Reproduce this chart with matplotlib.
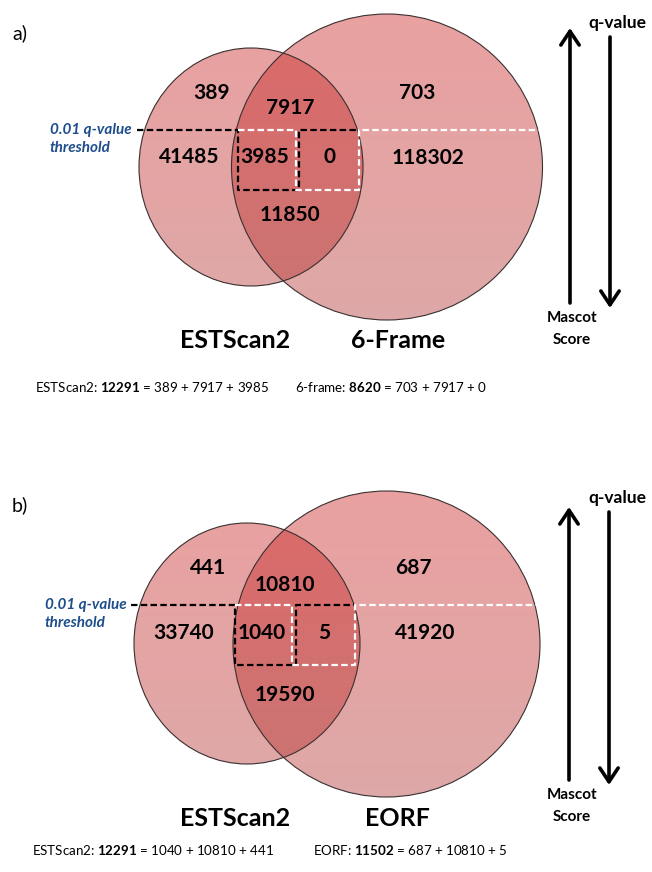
import numpy as np
import matplotlib.pyplot as plt
from matplotlib.patches import Ellipse

plt.rcParams['font.family'] = ['Lato', 'DejaVu Sans']
plt.rcParams['mathtext.fontset'] = 'custom'
plt.rcParams['mathtext.rm'] = 'Lato'
plt.rcParams['mathtext.bf'] = 'Lato:bold'

# region counts: top-left, top-mid, top-right, mid-left, box1, box2, mid-right, bottom-mid
a_counts = [389, 7917, 703, 41485, 3985, 0, 118302, 11850]
b_counts = [441, 10810, 687, 33740, 1040, 5, 41920, 19590]
a_sets = ["ESTScan2", "6-Frame"]
b_sets = ["ESTScan2", "EORF"]
a_eq_names = ["ESTScan2", "6-frame"]
b_eq_names = ["ESTScan2", "EORF"]
a_totals = [12291, 8620]
b_totals = [12291, 11502]
a_parts = [[389, 7917, 3985], [703, 7917, 0]]
b_parts = [[1040, 10810, 441], [687, 10810, 5]]

# layout (pixel coords of the figure)
a_pos = [(212, 93), (290, 108), (417, 93), (189, 157), (265, 157), (329, 157), (428, 158), (290, 215)]
b_pos = [(208, 568), (285, 585), (413, 568), (184, 633), (262, 633), (324, 633), (425, 633), (285, 695)]

panels = [
    dict(tag="a)", tag_y=33, counts=a_counts, pos=a_pos, sets=a_sets, set_y=340, set_x=(235, 398),
         left=(251, 167, 224, 238), right=(387, 167, 311, 306),
         thr_y=130, box=(238, 296, 299, 359, 190), line=(137, 540), thr_x=50,
         arr_up=(570, 303, 28), arr_dn=(610, 37, 308), q_y=23, m_y=318,
         eq_y=387, eq_x=(35, 295), names=a_eq_names, totals=a_totals, parts=a_parts),
    dict(tag="b)", tag_y=505, counts=b_counts, pos=b_pos, sets=b_sets, set_y=818, set_x=(235, 397),
         left=(247, 643.5, 226, 241), right=(386.5, 644, 307, 306),
         thr_y=605, box=(235, 292, 296, 355, 665), line=(131, 537), thr_x=45,
         arr_up=(569, 780, 507), arr_dn=(609, 512, 785), q_y=498, m_y=795,
         eq_y=850, eq_x=(32, 313), names=b_eq_names, totals=b_totals, parts=b_parts),
]

fig = plt.figure(figsize=(6.52, 8.72), dpi=100)
ax = fig.add_axes([0, 0, 1, 1])

alpha = 0.42
c_top = np.array([0.80, 0.12, 0.12])
c_bot = np.array([0.69, 0.19, 0.18])

for p in panels:
    ytop = p['right'][1] - p['right'][3] / 2
    ybot = p['right'][1] + p['right'][3] / 2
    t = np.linspace(0, 1, 256)[:, None]
    grad = np.zeros((256, 1, 4))
    grad[:, 0, :3] = c_top * (1 - t) + c_bot * t
    grad[:, 0, 3] = alpha
    for cx, cy, w, h in (p['left'], p['right']):
        clip = Ellipse((cx, cy), w, h, transform=ax.transData)
        im = ax.imshow(grad, extent=(cx - w / 2, cx + w / 2, ybot, ytop), origin='upper',
                       aspect='auto', interpolation='bilinear', zorder=1)
        im.set_clip_path(clip)
        ax.add_patch(Ellipse((cx, cy), w, h, fill=False, ec='#3a3030', lw=0.8, zorder=2))

    for val, (x, y) in zip(p['counts'], p['pos']):
        ax.text(x, y, str(val), ha='center', va='center', fontsize=15, fontweight='bold', zorder=5)

    for name, x in zip(p['sets'], p['set_x']):
        ax.text(x, p['set_y'], name, ha='center', va='center', fontsize=18, fontweight='bold')

    ax.text(12, p['tag_y'], p['tag'], ha='left', va='center', fontsize=14)

    # threshold lines and boxes
    y0 = p['thr_y']
    bl, wv, bv, r, yb = p['box']
    ls = (0, (2.9, 1.5))
    ax.plot([p['line'][0], bl, bl, bv, bv, r], [y0, y0, yb, yb, y0, y0],
            color='black', lw=1.6, linestyle=ls, zorder=4)
    ax.plot([bl, wv, wv, r, r, p['line'][1]], [y0, y0, yb, yb, y0, y0],
            color='white', lw=1.6, linestyle=ls, zorder=4)
    ax.text(p['thr_x'], y0, "0.01 q-value", ha='left', va='center', fontsize=11,
            fontweight='bold', fontstyle='italic', color='#1f4e8c')
    ax.text(p['thr_x'], y0 + 18, "threshold", ha='left', va='center', fontsize=11,
            fontweight='bold', fontstyle='italic', color='#1f4e8c')

    # score / q-value arrows
    ux, uy0, uy1 = p['arr_up']
    dx, dy0, dy1 = p['arr_dn']
    style = dict(arrowstyle='->,head_length=0.45,head_width=0.3', lw=2.6, color='black',
                 mutation_scale=22, shrinkA=0, shrinkB=0)
    ax.annotate('', xy=(ux, uy1), xytext=(ux, uy0), arrowprops=style)
    ax.annotate('', xy=(dx, dy1), xytext=(dx, dy0), arrowprops=style)
    ax.text(617, p['q_y'], "q-value", ha='center', va='center', fontsize=12.5, fontweight='bold')
    ax.text(572, p['m_y'], "Mascot", ha='center', va='center', fontsize=11, fontweight='bold')
    ax.text(572, p['m_y'] + 22, "Score", ha='center', va='center', fontsize=11, fontweight='bold')

    for name, tot, parts, x in zip(p['names'], p['totals'], p['parts'], p['eq_x']):
        s = name + ": $\\mathbf{" + str(tot) + "}$ = " + " + ".join(str(v) for v in parts)
        ax.text(x, p['eq_y'], s, ha='left', va='center', fontsize=9.6)

ax.set_xlim(0, 652)
ax.set_ylim(872, 0)
ax.axis('off')
fig.savefig("out.png", dpi=100)
